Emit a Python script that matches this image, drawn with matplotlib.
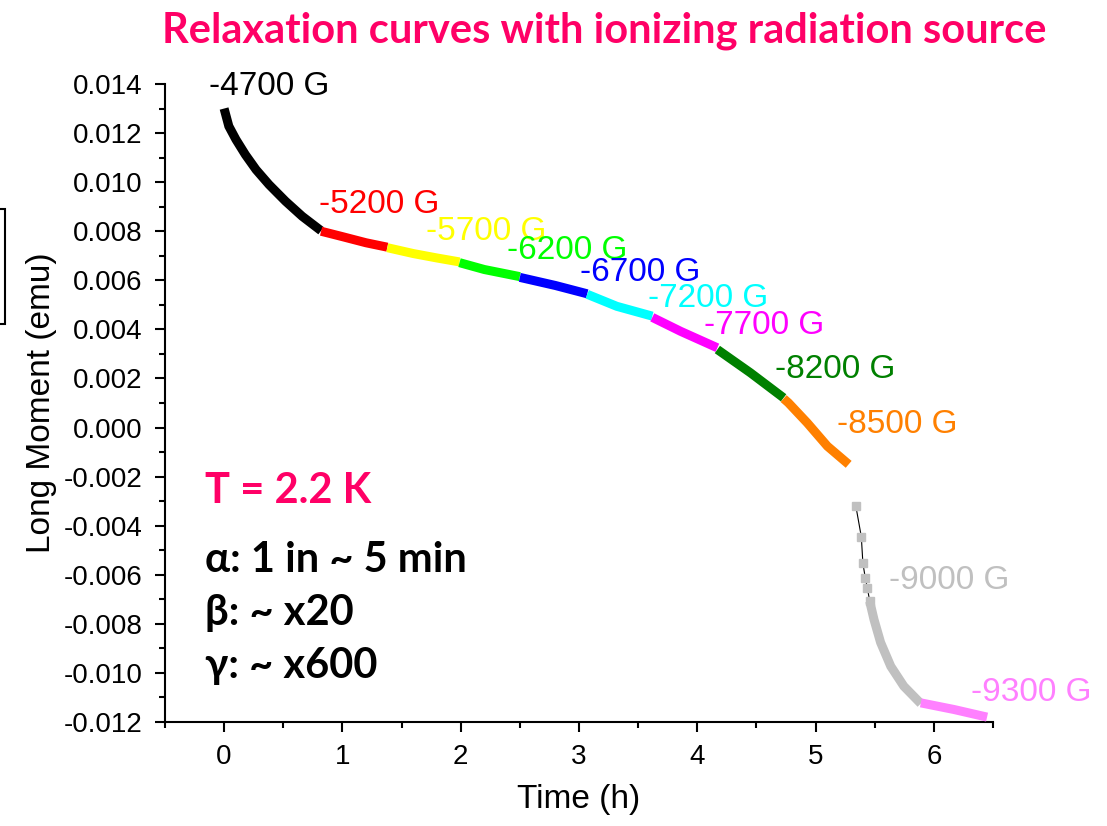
import matplotlib
matplotlib.use("Agg")
import matplotlib.pyplot as plt
from matplotlib.patches import Rectangle
from matplotlib.ticker import MultipleLocator, FormatStrFormatter

plt.rcParams["font.family"] = ["Liberation Sans", "DejaVu Sans"]
plt.rcParams["axes.unicode_minus"] = False

# field steps, colours and the curve (time in h, moment in emu)
fields = ["-4700 G", "-5200 G", "-5700 G", "-6200 G", "-6700 G", "-7200 G",
          "-7700 G", "-8200 G", "-8500 G", "-9000 G", "-9300 G"]
colors = ["#000000", "#ff0000", "#ffff00", "#00ff00", "#0000ff", "#00ffff",
          "#ff00ff", "#008000", "#ff8000", "#c0c0c0", "#ff80ff"]

t_4700 = [0.0, 0.04, 0.10, 0.18, 0.27, 0.38, 0.52, 0.66, 0.82]
m_4700 = [0.0130, 0.01228, 0.01174, 0.01112, 0.01051, 0.0099, 0.00922, 0.00861, 0.00802]
t_5200 = [0.82, 1.0, 1.2, 1.38]
m_5200 = [0.00800, 0.00778, 0.00753, 0.00735]
t_5700 = [1.38, 1.6, 1.8, 1.99]
m_5700 = [0.00733, 0.00709, 0.00691, 0.00675]
t_6200 = [1.99, 2.2, 2.5]
m_6200 = [0.00672, 0.00644, 0.00615]
t_6700 = [2.5, 2.8, 3.07]
m_6700 = [0.00612, 0.00579, 0.00545]
t_7200 = [3.07, 3.32, 3.62]
m_7200 = [0.00543, 0.00494, 0.00454]
t_7700 = [3.62, 3.86, 4.17]
m_7700 = [0.00449, 0.00392, 0.00325]
t_8200 = [4.17, 4.45, 4.73]
m_8200 = [0.00318, 0.00223, 0.00121]
t_8500 = [4.73, 4.77, 4.93, 5.10, 5.28]
m_8500 = [0.00118, 0.00101, 0.00019, -0.00076, -0.00150]
# first points of -9000 G are sparse, the rest is dense
t_9000_sparse = [5.34, 5.387, 5.40, 5.42, 5.438, 5.458]
m_9000_sparse = [-0.00318, -0.00445, -0.00551, -0.00612, -0.00653, -0.00708]
t_9000 = [5.458, 5.494, 5.55, 5.636, 5.746, 5.89]
m_9000 = [-0.00708, -0.00782, -0.00876, -0.00973, -0.01054, -0.01125]
t_9300 = [5.89, 6.17, 6.45]
m_9300 = [-0.01122, -0.01149, -0.01180]

segments = [(t_4700, m_4700), (t_5200, m_5200), (t_5700, m_5700), (t_6200, m_6200),
            (t_6700, m_6700), (t_7200, m_7200), (t_7700, m_7700), (t_8200, m_8200),
            (t_8500, m_8500), (t_9000, m_9000), (t_9300, m_9300)]

# label anchor (left, baseline) for each field
label_pos = [(-0.13, 0.01355), (0.80, 0.00873), (1.71, 0.00765), (2.39, 0.00688),
             (3.01, 0.00598), (3.585, 0.00492), (4.06, 0.00381), (4.655, 0.00202),
             (5.18, -0.00022), (5.62, -0.00658), (6.315, -0.01114)]

fig = plt.figure(figsize=(11.07, 8.26), dpi=100)
ax = fig.add_axes([0.149, 0.1259, 0.748, 0.7724])

for (t, m), c in zip(segments, colors):
    ax.plot(t, m, color=c, lw=6.5, solid_capstyle="butt", solid_joinstyle="miter", zorder=3)
ax.plot(t_9000_sparse, m_9000_sparse, color="black", lw=0.8, marker="s", ms=5.5,
        mfc=colors[9], mec=colors[9], zorder=3)

for name, c, (x, y) in zip(fields, colors, label_pos):
    ax.text(x, y, name, color=c, fontsize=24, ha="left", va="baseline", zorder=4)

notes = [("T = 2.2 K", "#ff0066", -0.0026), ("α: 1 in ~ 5 min", "black", -0.0054),
         ("β: ~ x20", "black", -0.00755), ("γ: ~ x600", "black", -0.0097)]
for s, c, y in notes:
    ax.text(-0.165, y, s, color=c, fontsize=30, fontweight="bold", ha="left",
            va="center", family=["Lato", "Liberation Serif", "DejaVu Sans"])

ax.set_xlim(-0.5, 6.5)
ax.set_ylim(-0.012, 0.014)
ax.xaxis.set_major_locator(MultipleLocator(1))
ax.xaxis.set_minor_locator(MultipleLocator(0.5))
ax.yaxis.set_major_locator(MultipleLocator(0.002))
ax.yaxis.set_minor_locator(MultipleLocator(0.001))
ax.yaxis.set_major_formatter(FormatStrFormatter("%.3f"))
ax.spines["top"].set_visible(False)
ax.spines["right"].set_visible(False)
for s in ("left", "bottom"):
    ax.spines[s].set_linewidth(1.5)
ax.tick_params(which="major", direction="out", length=7, width=1.5, labelsize=20, pad=9)
ax.tick_params(which="minor", direction="out", length=4.5, width=1.5)

ax.set_xlabel("Time (h)", fontsize=24, labelpad=10)
ax.set_ylabel("Long Moment (emu)", fontsize=24, labelpad=5)

fig.text(0.5456, 0.963, "Relaxation curves with ionizing radiation source", color="#ff0066",
         fontsize=30, fontweight="bold", ha="center", va="center", family=["Lato", "DejaVu Sans"])

# edge of a box cut off at the left border
fig.add_artist(Rectangle((-0.01, 0.6077), 0.0145, 0.1393, transform=fig.transFigure,
                         fill=False, edgecolor="black", lw=1.5))

fig.savefig("out.png", dpi=100)
